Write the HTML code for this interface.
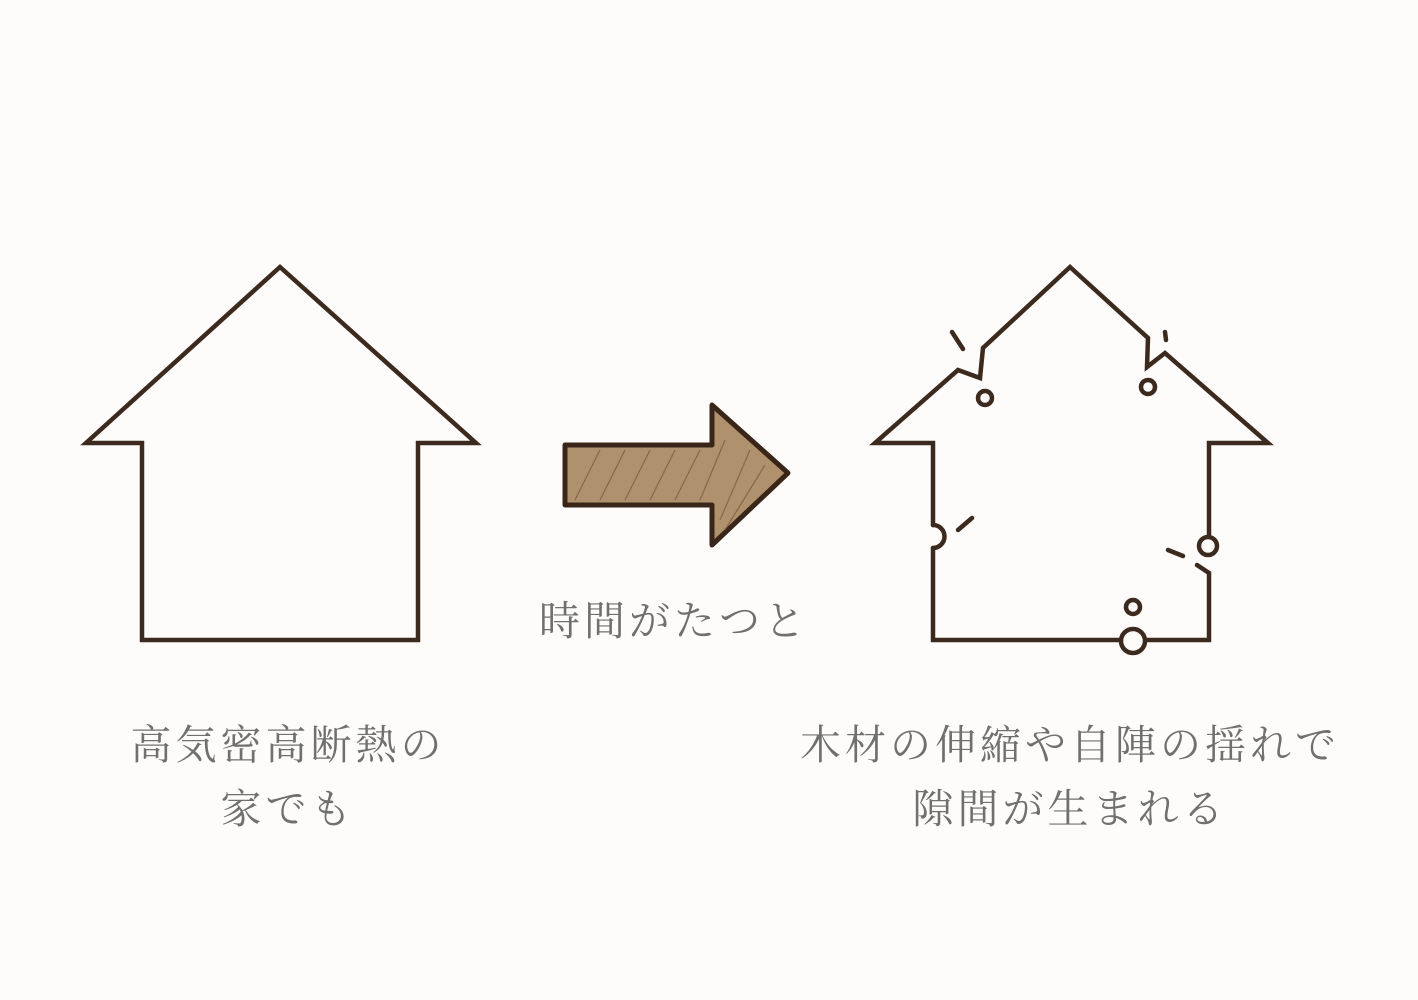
<!DOCTYPE html>
<html><head><meta charset="utf-8"><style>
html,body{margin:0;padding:0;background:#fdfcfa;}
svg{display:block}
text{font-family:"Liberation Serif","Noto Serif CJK SC",serif;fill:#707070;font-size:41px;letter-spacing:4px}
</style></head><body>
<svg width="1418" height="1000" viewBox="0 0 1418 1000" xmlns="http://www.w3.org/2000/svg">
<rect width="1418" height="1000" fill="#fdfcfa"/>
<g fill="none" stroke="#3d2a1e" stroke-width="4.5" stroke-linejoin="miter" stroke-linecap="round">
<polygon points="280,267 476,443 418,443 418,640 142,640 142,443 86,443"/>
<polyline points="1120,640 933,640 933,548"/>
<path d="M933,525 A11.5,11.5 0 0 1 933,548"/>
<polyline points="933,525 933,443 875,443 958,370 980,378 983,348 1070,267 1148,338 1147,367 1165,353 1268,443 1209,443 1209,535"/>
<polyline points="1197,565 1209,573 1209,640 1146,640"/>
<line x1="952" y1="332" x2="963" y2="349"/>
<line x1="1165" y1="332" x2="1166" y2="340"/>
<line x1="958" y1="530" x2="972" y2="518"/>
<line x1="1168" y1="550" x2="1183" y2="556"/>
<circle cx="985" cy="398" r="7"/>
<circle cx="1148" cy="387" r="7"/>
<circle cx="1208" cy="546" r="9"/>
<circle cx="1133" cy="607" r="7"/>
<circle cx="1133" cy="641" r="12"/>
</g>
<polygon points="565,445 712,445 712,405 788,473 712,545 712,505 565,505" fill="#b0916e" stroke="#3a2618" stroke-width="5" stroke-linejoin="round"/>
<g stroke="#6e4f35" stroke-width="1.3" opacity="0.6">
<line x1="575" y1="500" x2="600" y2="450"/><line x1="600" y1="500" x2="625" y2="450"/><line x1="625" y1="500" x2="650" y2="450"/><line x1="650" y1="500" x2="675" y2="450"/><line x1="675" y1="500" x2="700" y2="450"/><line x1="700" y1="500" x2="725" y2="440"/><line x1="720" y1="520" x2="750" y2="450"/><line x1="725" y1="530" x2="765" y2="465"/>
</g>
<text x="288" y="759" text-anchor="middle">高気密高断熱の</text>
<text x="288" y="823" text-anchor="middle">家でも</text>
<text x="674" y="635" text-anchor="middle">時間がたつと</text>
<text x="1070" y="759" text-anchor="middle">木材の伸縮や自陣の揺れで</text>
<text x="1070" y="823" text-anchor="middle">隙間が生まれる</text>
</svg>
</body></html>
